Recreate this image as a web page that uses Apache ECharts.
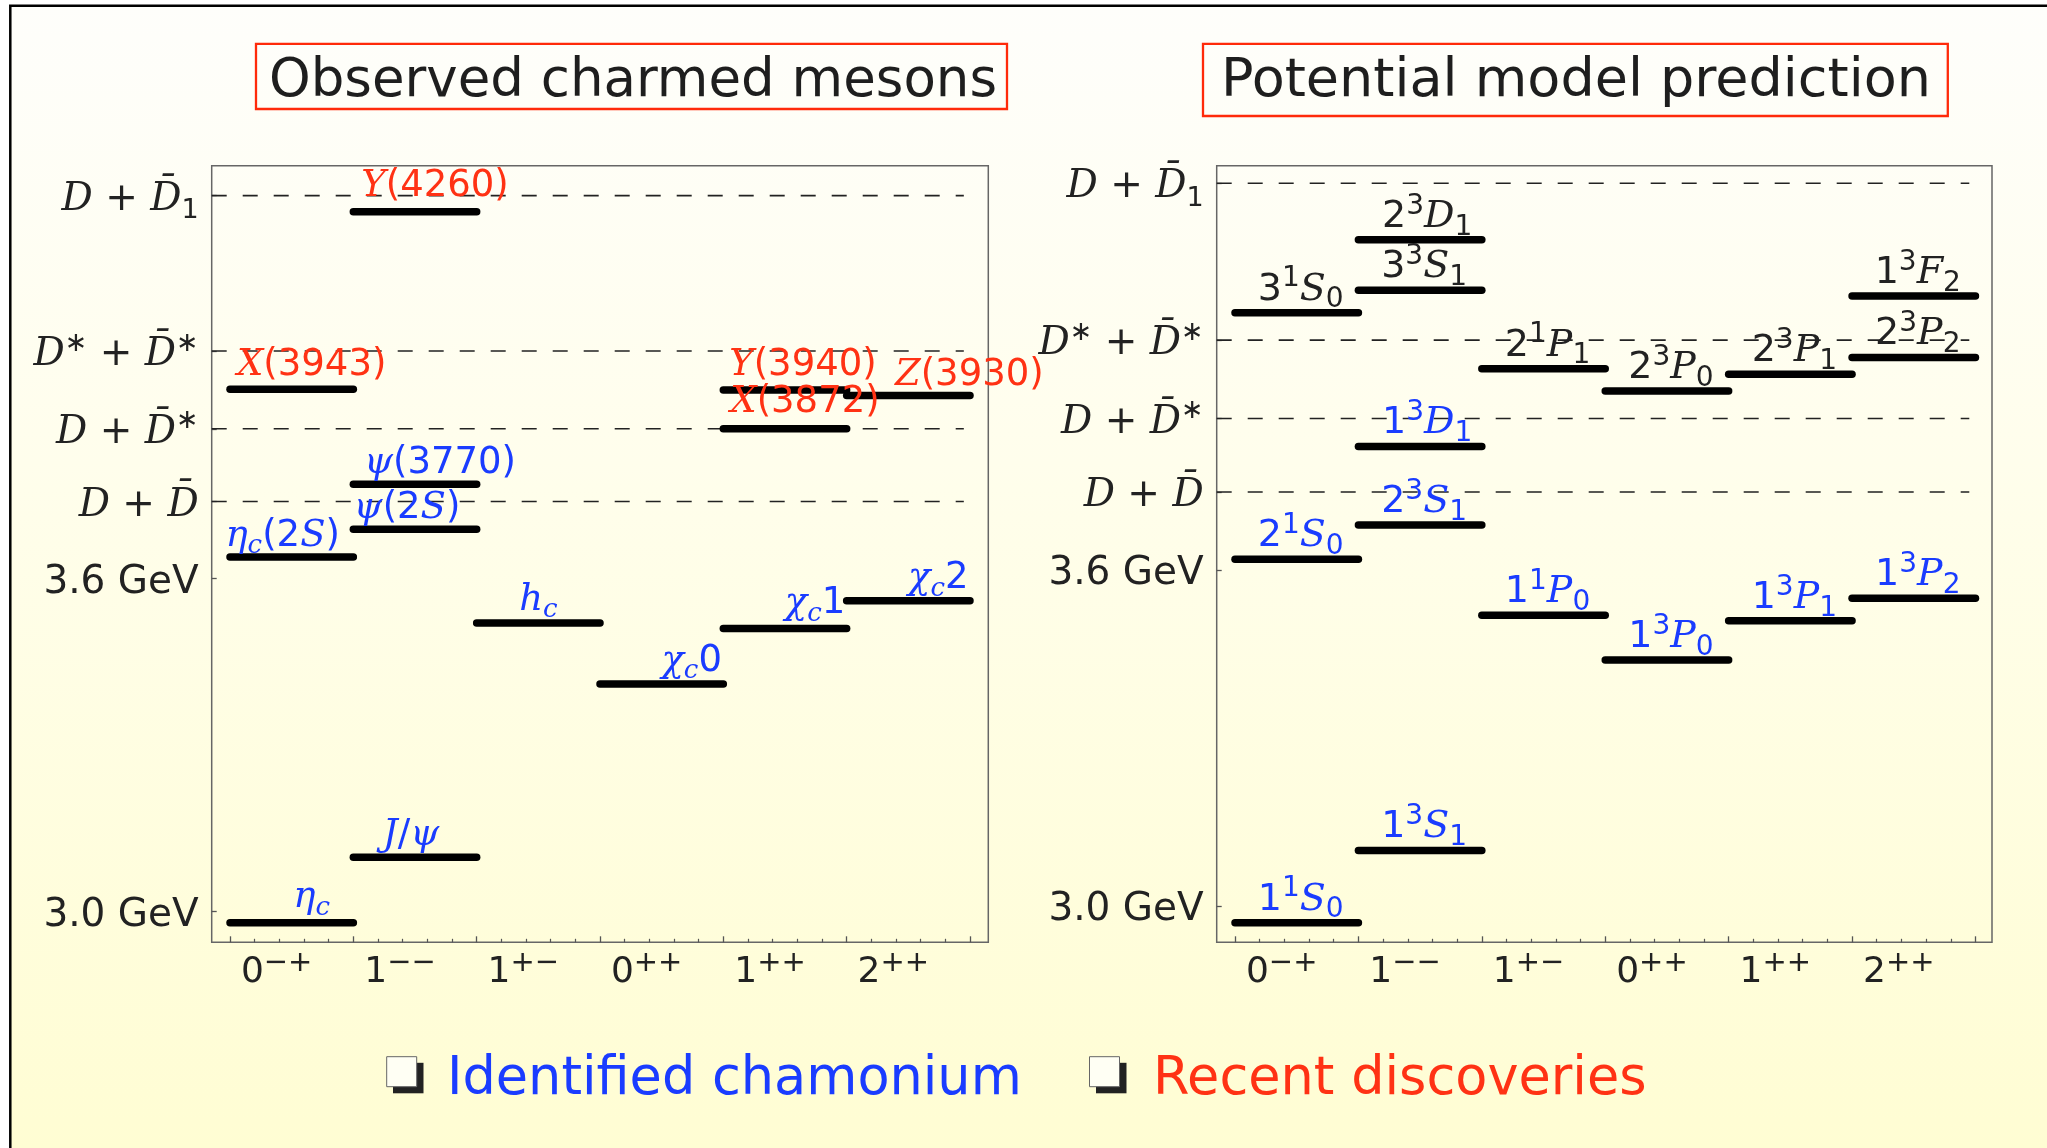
<!DOCTYPE html>
<html><head><meta charset="utf-8">
<script src="https://cdn.jsdelivr.net/npm/echarts@6/dist/echarts.min.js"></script>
<style>html,body{margin:0;padding:0;background:#fff}#c{width:2047px;height:1148px}</style>
</head><body><div id="c"></div>
<script>
// ---------------- data ----------------
const jpcLabels = ['0^{−+}', '1^{−−}', '1^{+−}', '0^{++}', '1^{++}', '2^{++}'];
const thresholdMass = [3.739, 3.870, 4.010, 4.290];
const yTickValues = [3.0, 3.6, 3.739, 3.870, 4.010, 4.290];
const yTickLabels = ['3.0 GeV', '3.6 GeV', 'D + D\u0304', 'D + D\u0304^{∗}', 'D^{∗} + D\u0304^{∗}', 'D + D\u0304_{1}'];

// observed states (left panel)
const obsNames = ['η_{c}', 'η_{c}(2S)', 'X(3943)', 'J/ψ', 'ψ(2S)', 'ψ(3770)', 'Y(4260)', 'h_{c}', 'χ_{c}0', 'χ_{c}1', 'X(3872)', 'Y(3940)', 'χ_{c}2', 'Z(3930)'];
const obsJpc   = [0, 0, 0, 1, 1, 1, 1, 2, 3, 4, 4, 4, 5, 5];
const obsMass  = [2.980, 3.639, 3.941, 3.098, 3.689, 3.770, 4.261, 3.520, 3.410, 3.510, 3.870, 3.940, 3.560, 3.930];
const obsKind  = ['id', 'id', 'new', 'id', 'id', 'id', 'new', 'id', 'id', 'id', 'new', 'new', 'id', 'new'];

// potential model predictions (right panel)
const modNames = ['1^{1}S_{0}', '2^{1}S_{0}', '3^{1}S_{0}', '1^{3}S_{1}', '2^{3}S_{1}', '1^{3}D_{1}', '3^{3}S_{1}', '2^{3}D_{1}', '1^{1}P_{0}', '2^{1}P_{1}', '1^{3}P_{0}', '2^{3}P_{0}', '1^{3}P_{1}', '2^{3}P_{1}', '1^{3}P_{2}', '2^{3}P_{2}', '1^{3}F_{2}'];
const modJpc   = [0, 0, 0, 1, 1, 1, 1, 1, 2, 2, 3, 3, 4, 4, 5, 5, 5];
const modMass  = [2.970, 3.619, 4.059, 3.099, 3.680, 3.820, 4.099, 4.189, 3.519, 3.959, 3.439, 3.919, 3.509, 3.949, 3.549, 3.979, 4.089];
const modKind  = ['id', 'id', 'pred', 'id', 'id', 'id', 'pred', 'pred', 'id', 'pred', 'id', 'pred', 'id', 'pred', 'id', 'pred', 'pred'];

const titles = ['Observed charmed mesons', 'Potential model prediction'];
const legendTexts = ['Identified chamonium', 'Recent discoveries'];

// ---------------- styles / layout ----------------
const BLUE = '#1a3cff', RED = '#ff3214', INK = '#222';
const kindColor = {id: BLUE, new: RED, pred: INK};
const obsLabelOffset = [[20,-25],[-9,-21],[20,-24],[-4,-22],[-8,-21],[25,-21],[20,-25],[0,-23],[30,-23],[30,-25],[20,-26],[18,-25],[30,-22],[61,-20]];
const modLabelOffset = modNames.map(n => n.indexOf('D') >= 0 ? [7,-23] : [4,-23]);
const DASH_END = 5.95;

function kindOf(ch) {
  if (/[A-Za-z\u0370-\u03ff\u0300-\u036f]/.test(ch)) return 'i';
  return 'n';
}
function toRich(s, prefix) {
  const tokens = [];
  const push = (cls, ch) => {
    const last = tokens[tokens.length - 1];
    if (last && last.cls === cls) last.text += ch; else tokens.push({cls, text: ch});
  };
  let i = 0;
  while (i < s.length) {
    const c = s[i];
    if (c === '_' || c === '^') {
      const lvl = c === '_' ? 'b' : 'p';
      i++;
      let content;
      if (s[i] === '{') { const j = s.indexOf('}', i); content = s.slice(i + 1, j); i = j + 1; }
      else { content = s[i]; i++; }
      for (const ch of content) push(lvl + kindOf(ch), ch);
      continue;
    }
    push('m' + kindOf(c), c);
    i++;
  }
  return tokens.map(t => '{' + prefix + t.cls + '|' + t.text + '}').join('');
}
function plainRich(s, prefix) { return '{' + prefix + 'mn|' + s + '}'; }
function richStyles(prefix, size, small, color) {
  const L = Math.round(size * 1.28);
  const it = {fontFamily: 'DejaVu Serif', fontStyle: 'italic'};
  const sn = {fontFamily: 'DejaVu Sans', fontStyle: 'normal'};
  const c = {color: color, fill: color};
  const r = {};
  r[prefix + 'mi'] = Object.assign({}, it, c, {fontSize: size, lineHeight: L});
  r[prefix + 'mn'] = Object.assign({}, sn, c, {fontSize: size, lineHeight: L});
  r[prefix + 'bi'] = Object.assign({}, it, c, {fontSize: small, lineHeight: small, verticalAlign: 'bottom'});
  r[prefix + 'bn'] = Object.assign({}, sn, c, {fontSize: small, lineHeight: small, verticalAlign: 'bottom'});
  r[prefix + 'pi'] = Object.assign({}, it, c, {fontSize: small, lineHeight: Math.round(small * 1.16), verticalAlign: 'top'});
  r[prefix + 'pn'] = Object.assign({}, sn, c, {fontSize: small, lineHeight: Math.round(small * 1.16), verticalAlign: 'top'});
  return r;
}
const yRich = richStyles('y', 39, 27, INK);
const xRich = richStyles('x', 36, 29, INK);

const majorTicks = [0, 1, 2, 3, 4, 5, 6];
const labelPos = [0.5, 1.5, 2.5, 3.5, 4.5, 5.5];
const minorTicks = [];
for (let a = 0; a < 6; a++) for (let k = 1; k < 5; k++) minorTicks.push(+(a + k / 5).toFixed(2));

function xAxes(gridIndex, min, max) {
  return [{
    type: 'value', gridIndex, min, max, position: 'bottom',
    axisLine: {show: false, onZero: false}, splitLine: {show: false},
    axisTick: {show: true, inside: true, length: 6, customValues: majorTicks, lineStyle: {color: '#555', width: 1.3}},
    axisLabel: {show: true, customValues: labelPos, margin: 7, padding: [0, 30, 0, 0],
      formatter: v => toRich(jpcLabels[Math.floor(v)], 'x'), rich: xRich}
  }, {
    type: 'value', gridIndex, min, max, position: 'bottom',
    axisLine: {show: false, onZero: false}, splitLine: {show: false},
    axisTick: {show: true, inside: true, length: 3.5, customValues: minorTicks, lineStyle: {color: '#555', width: 1.2}},
    axisLabel: {show: false}
  }];
}
function yAxis(gridIndex, min, max) {
  return {
    type: 'value', gridIndex, min, max, position: 'left',
    axisLine: {show: false, onZero: false}, splitLine: {show: false},
    axisTick: {show: true, inside: true, length: 5, customValues: yTickValues, lineStyle: {color: '#555', width: 1.3}},
    axisLabel: {show: true, customValues: yTickValues, margin: 13, rich: yRich, padding: [8, 0, 0, 0],
      formatter: v => {
        const k = yTickValues.findIndex(t => Math.abs(t - v) < 1e-6);
        const s = yTickLabels[k];
        return /GeV/.test(s) ? plainRich(s, 'y') : toRich(s, 'y');
      }}
  };
}

function dashSeries(xi, yi) {
  return {
    type: 'custom', xAxisIndex: xi, yAxisIndex: yi, silent: true, clip: false, z: 2,
    data: thresholdMass.map(m => [m]),
    renderItem(params, api) {
      const m = api.value(0);
      const b = api.coord([DASH_END, m]);
      const cs = params.coordSys;
      return {type: 'line', shape: {x1: cs.x, y1: b[1], x2: b[0], y2: b[1]},
        style: {stroke: '#222', lineWidth: 1.6, lineDash: [15, 16]}};
    }
  };
}
function barSeries(jpc, mass, xi, yi) {
  return {
    type: 'custom', xAxisIndex: xi, yAxisIndex: yi, silent: true, clip: false, z: 3,
    data: jpc.map((j, i) => [j, mass[i]]),
    renderItem(params, api) {
      const a = api.coord([api.value(0), api.value(1)]);
      const b = api.coord([api.value(0) + 1, api.value(1)]);
      return {type: 'line', shape: {x1: a[0], y1: a[1], x2: b[0], y2: b[1]},
        style: {stroke: '#000', lineWidth: 7.5, lineCap: 'round'}};
    }
  };
}
function labelSeries(names, jpc, mass, kinds, offsets, xi, yi, size, small) {
  return {
    type: 'custom', xAxisIndex: xi, yAxisIndex: yi, silent: true, clip: false, z: 4,
    data: jpc.map((j, i) => [j, mass[i]]),
    renderItem(params, api) {
      const i = params.dataIndex;
      const p = api.coord([api.value(0) + 0.5, api.value(1)]);
      const col = kindColor[kinds[i]];
      return {type: 'text', x: p[0] + offsets[i][0], y: p[1] + offsets[i][1],
        style: {text: toRich(names[i], 't'), rich: richStyles('t', size, small, col),
          align: 'center', verticalAlign: 'middle', textAlign: 'center', textVerticalAlign: 'middle', fill: col}};
    }
  };
}

const chart = echarts.init(document.getElementById('c'), null, {renderer: 'canvas'});
const bgGrad = new echarts.graphic.LinearGradient(0, 0, 0, 1, [
  {offset: 0, color: '#fefefb'}, {offset: 0.4, color: '#fffeec'}, {offset: 1, color: '#fffdd3'}]);

function txt(x, y, text, size, color, align) {
  return {type: 'text', x, y, silent: true, z: 10,
    style: {text, fontSize: size, fontFamily: 'DejaVu Sans', fill: color,
      align: align, textAlign: align, verticalAlign: 'middle', textVerticalAlign: 'middle'}};
}

chart.setOption({
  animation: false,
  backgroundColor: '#fff',
  grid: [
    {left: 211.7, top: 165.7, width: 776.6, height: 776.6, show: true, borderColor: '#666', borderWidth: 1.5, backgroundColor: 'transparent'},
    {left: 1216.7, top: 165.7, width: 775.3, height: 776.6, show: true, borderColor: '#666', borderWidth: 1.5, backgroundColor: 'transparent'}
  ],
  xAxis: xAxes(0, -0.1484, 6.1485).concat(xAxes(1, -0.1483, 6.134)),
  yAxis: [yAxis(0, 2.9447, 4.3440), yAxis(1, 2.9350, 4.3214)],
  series: [
    dashSeries(0, 0), barSeries(obsJpc, obsMass, 0, 0), labelSeries(obsNames, obsJpc, obsMass, obsKind, obsLabelOffset, 0, 0, 37, 26),
    dashSeries(2, 1), barSeries(modJpc, modMass, 2, 1), labelSeries(modNames, modJpc, modMass, modKind, modLabelOffset, 2, 1, 38, 28)
  ],
  graphic: [
    {type: 'rect', silent: true, z: -10, shape: {x: 10, y: 5.5, width: 2037, height: 1142.5}, style: {fill: bgGrad}},
    {type: 'polyline', silent: true, z: 10, shape: {points: [[10.3, 1148], [10.3, 5.7], [2047, 5.7]]}, style: {stroke: '#000', lineWidth: 2.5, fill: null}},
    {type: 'rect', silent: true, z: 10, shape: {x: 256, y: 43.8, width: 751, height: 65.2}, style: {fill: null, stroke: '#ff2a0a', lineWidth: 2.3}},
    {type: 'rect', silent: true, z: 10, shape: {x: 1203, y: 43.8, width: 744.8, height: 72.2}, style: {fill: null, stroke: '#ff2a0a', lineWidth: 2.3}},
    txt(633, 82, titles[0], 53, '#1e1e1e', 'center'),
    txt(1576, 81.5, titles[1], 54, '#1e1e1e', 'center'),
    {type: 'rect', silent: true, z: 10, shape: {x: 393, y: 1062.8, width: 30.5, height: 30.5}, style: {fill: '#222'}},
    {type: 'rect', silent: true, z: 11, shape: {x: 386.7, y: 1056.7, width: 30, height: 30}, style: {fill: '#fffff4', stroke: '#666', lineWidth: 1}},
    {type: 'rect', silent: true, z: 10, shape: {x: 1096, y: 1062.8, width: 30.5, height: 30.5}, style: {fill: '#222'}},
    {type: 'rect', silent: true, z: 11, shape: {x: 1089.5, y: 1056.7, width: 30, height: 30}, style: {fill: '#fffff4', stroke: '#666', lineWidth: 1}},
    txt(447, 1080, legendTexts[0], 52.5, BLUE, 'left'),
    txt(1153, 1080, legendTexts[1], 52.5, RED, 'left')
  ]
});
</script></body></html>
